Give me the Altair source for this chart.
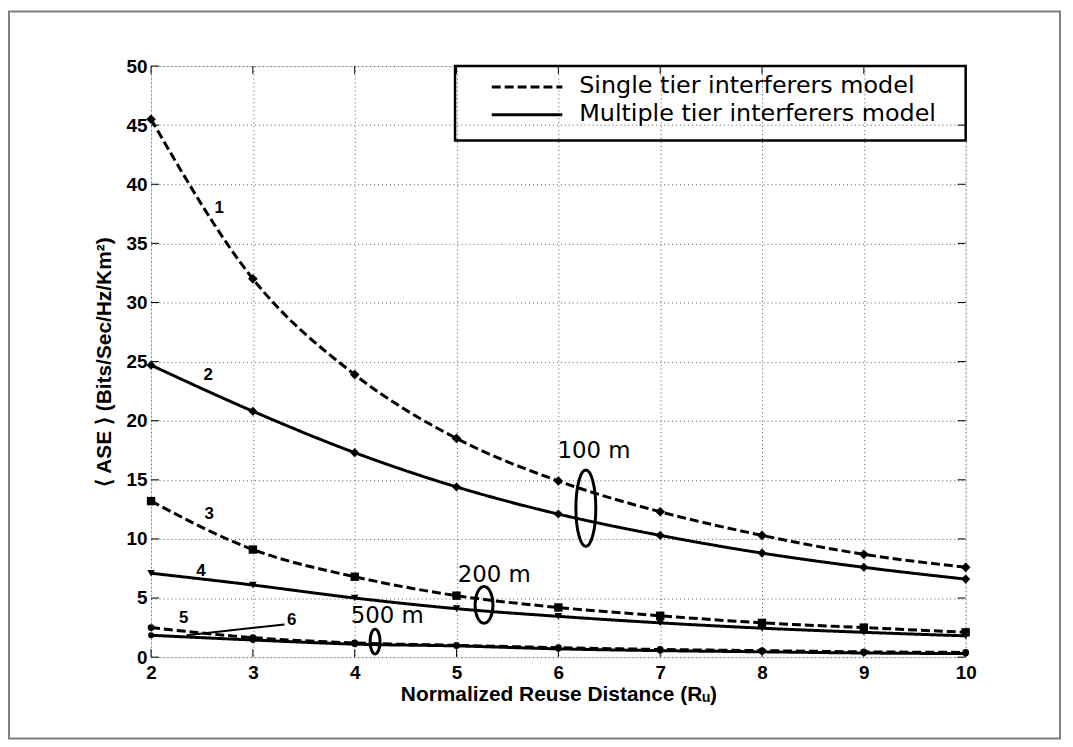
import altair as alt
import pandas as pd

# ---------------- data ----------------
x_vals = [2, 3, 4, 5, 6, 7, 8, 9, 10]
s1_single_100 = [45.5, 32.0, 23.9, 18.5, 14.9, 12.3, 10.3, 8.7, 7.6]
s2_multi_100 = [24.7, 20.8, 17.3, 14.4, 12.1, 10.3, 8.8, 7.6, 6.6]
s3_single_200 = [13.2, 9.1, 6.8, 5.2, 4.2, 3.5, 2.9, 2.5, 2.1]
s4_multi_200 = [7.1, 6.1, 5.0, 4.1, 3.45, 2.9, 2.45, 2.1, 1.8]
s5_single_500 = [2.5, 1.65, 1.2, 1.0, 0.8, 0.65, 0.55, 0.45, 0.4]
s6_multi_500 = [1.85, 1.45, 1.1, 0.95, 0.7, 0.55, 0.45, 0.35, 0.3]

series_ids = ["1", "2", "3", "4", "5", "6"]
series_vals = [s1_single_100, s2_multi_100, s3_single_200, s4_multi_200, s5_single_500, s6_multi_500]
series_model = ["single", "multi", "single", "multi", "single", "multi"]

x_ticks = [2, 3, 4, 5, 6, 7, 8, 9, 10]
y_ticks = [0, 5, 10, 15, 20, 25, 30, 35, 40, 45, 50]

num_labels = ["1", "2", "3", "4", "5", "6"]
num_x = [2.67, 2.56, 2.57, 2.49, 2.32, 3.38]
num_y = [38.0, 23.9, 12.1, 7.3, 3.3, 3.1]

dist_labels = ["100 m", "200 m", "500 m"]
dist_x = [6.35, 5.37, 4.32]
dist_y = [17.4, 6.95, 3.5]

ell_x = [6.27, 5.27, 4.2]
ell_y = [12.6, 4.42, 1.32]

pointer_x = [3.31]
pointer_y = [2.77]
pointer_x2 = [2.35]
pointer_y2 = [1.85]

legend_labels = ["Single tier interferers model", "Multiple tier interferers model"]

# ---------------- tables ----------------
rows = []
for sid, vals, model in zip(series_ids, series_vals, series_model):
    for xv, yv in zip(x_vals, vals):
        rows.append({"x": xv, "y": yv, "sid": sid, "model": model})
df = pd.DataFrame(rows)

xt = pd.DataFrame({"x": x_ticks})
yt = pd.DataFrame({"y": y_ticks})
num_df = pd.DataFrame({"x": num_x, "y": num_y, "label": num_labels})
dist_df = pd.DataFrame({"x": dist_x, "y": dist_y, "label": dist_labels})
ptr_df = pd.DataFrame({"x": pointer_x, "y": pointer_y, "x2": pointer_x2, "y2": pointer_y2})

W, H = 820, 595
FONT = "Liberation Sans"

x_scale = alt.Scale(domain=[2, 10], nice=False, zero=False)
y_scale = alt.Scale(domain=[0, 50], nice=False)

x_axis = alt.Axis(
    values=x_ticks, title="Normalized Reuse Distance (R\u1d64)",
    labelFont=FONT, labelFontWeight="bold", labelFontSize=19, labelColor="black",
    titleFont=FONT, titleFontWeight="bold", titleFontSize=21, titleColor="black",
    ticks=False, tickSize=0, domain=False, grid=True, gridDash=[1, 3],
    gridColor="#555555", gridWidth=1, labelPadding=7, titlePadding=1, labelFlush=False,
)
y_axis = alt.Axis(
    values=y_ticks, title="\u27e8 ASE \u27e9 (Bits/Sec/Hz/Km\u00b2)",
    labelFont=FONT, labelFontWeight="bold", labelFontSize=19, labelColor="black",
    titleFont=FONT, titleFontWeight="bold", titleFontSize=21, titleColor="black",
    ticks=False, tickSize=0, domain=False, grid=True, gridDash=[1, 3],
    gridColor="#555555", gridWidth=1, labelPadding=4, titlePadding=12, labelFlush=False,
)


def X(field="x"):
    return alt.X(f"{field}:Q", scale=x_scale, axis=x_axis)


def Y(field="y"):
    return alt.Y(f"{field}:Q", scale=y_scale, axis=y_axis)


one = alt.Data(values=[{"k": 1}])

lines = alt.Chart(df).mark_line(color="black", strokeWidth=3, interpolate="monotone").encode(
    x=X(), y=Y(), detail="sid:N",
    strokeDash=alt.StrokeDash("model:N", scale=alt.Scale(domain=["single", "multi"], range=[[9, 4], [1, 0]]), legend=None),
)

points = alt.Chart(df).mark_point(filled=True, color="black", opacity=1).encode(
    x=X(), y=Y(),
    shape=alt.Shape("sid:N", scale=alt.Scale(domain=series_ids,
                    range=["diamond", "diamond", "square", "triangle-down", "circle", "circle"]), legend=None),
    size=alt.Size("sid:O", scale=alt.Scale(domain=series_ids, range=[95, 35, 60, 50, 35, 70]), legend=None),
)

ticks_bottom = alt.Chart(xt).mark_rule(color="black", strokeWidth=1).encode(x=X(), y=alt.value(H), y2=alt.value(H - 8))
ticks_top = alt.Chart(xt).mark_rule(color="black", strokeWidth=1).encode(x=X(), y=alt.value(0), y2=alt.value(8))
ticks_left = alt.Chart(yt).mark_rule(color="black", strokeWidth=1).encode(y=Y(), x=alt.value(0), x2=alt.value(8))
ticks_right = alt.Chart(yt).mark_rule(color="black", strokeWidth=1).encode(y=Y(), x=alt.value(W), x2=alt.value(W - 8))

num_text = alt.Chart(num_df).mark_text(font=FONT, fontWeight="bold", fontSize=17, color="black").encode(
    x=X(), y=Y(), text="label:N")

dist_text = alt.Chart(dist_df).mark_text(font="DejaVu Sans", fontSize=23, color="black").encode(
    x=X(), y=Y(), text="label:N")

pointer = alt.Chart(ptr_df).mark_rule(color="black", strokeWidth=2).encode(
    x=X(), y=Y(), x2="x2:Q", y2="y2:Q")


def ellipse(i, w, h):
    r = w / h
    path = f"M0,-1 A{r:.3f},1 0 1,1 0,1 A{r:.3f},1 0 1,1 0,-1 Z"
    d = pd.DataFrame({"x": [ell_x[i]], "y": [ell_y[i]]})
    return alt.Chart(d).mark_point(shape=path, size=h * h, filled=False, stroke="black",
                                   strokeWidth=3, opacity=1).encode(x=X(), y=Y())


ell100 = ellipse(0, 20, 77)
ell200 = ellipse(1, 18, 37)
ell500 = ellipse(2, 10, 25)

# legend (drawn manually, transparent box)
leg_box = alt.Chart(one).mark_rect(fillOpacity=0, stroke="black", strokeWidth=2.5).encode(
    x=alt.value(306), x2=alt.value(W), y=alt.value(0), y2=alt.value(75))
leg_line1 = alt.Chart(one).mark_rule(color="black", strokeWidth=3, strokeDash=[9, 4]).encode(
    x=alt.value(343), x2=alt.value(414), y=alt.value(21))
leg_line2 = alt.Chart(one).mark_rule(color="black", strokeWidth=3).encode(
    x=alt.value(343), x2=alt.value(414), y=alt.value(49))
leg_t1 = alt.Chart(one).mark_text(font="DejaVu Sans", fontSize=24, align="left", baseline="middle",
                                  color="black", text=legend_labels[0]).encode(x=alt.value(431), y=alt.value(20))
leg_t2 = alt.Chart(one).mark_text(font="DejaVu Sans", fontSize=24, align="left", baseline="middle",
                                  color="black", text=legend_labels[1]).encode(x=alt.value(431), y=alt.value(48))

frame = alt.Chart(one).mark_rect(fillOpacity=0, stroke="#808080", strokeWidth=2).encode(
    x=alt.value(-143), x2=alt.value(915), y=alt.value(-55), y2=alt.value(677))

chart = alt.layer(
    frame, lines, points, ticks_bottom, ticks_top, ticks_left, ticks_right,
    num_text, dist_text, pointer, ell100, ell200, ell500,
    leg_box, leg_line1, leg_line2, leg_t1, leg_t2,
).properties(
    width=W, height=H,
    padding={"left": 144, "top": 56, "right": 100, "bottom": 86},
    autosize=alt.AutoSizeParams(type="none"),
).configure_view(stroke="black", strokeWidth=2).configure(background="white")

chart.save("out.html", embed_options={"renderer": "svg", "actions": False})
